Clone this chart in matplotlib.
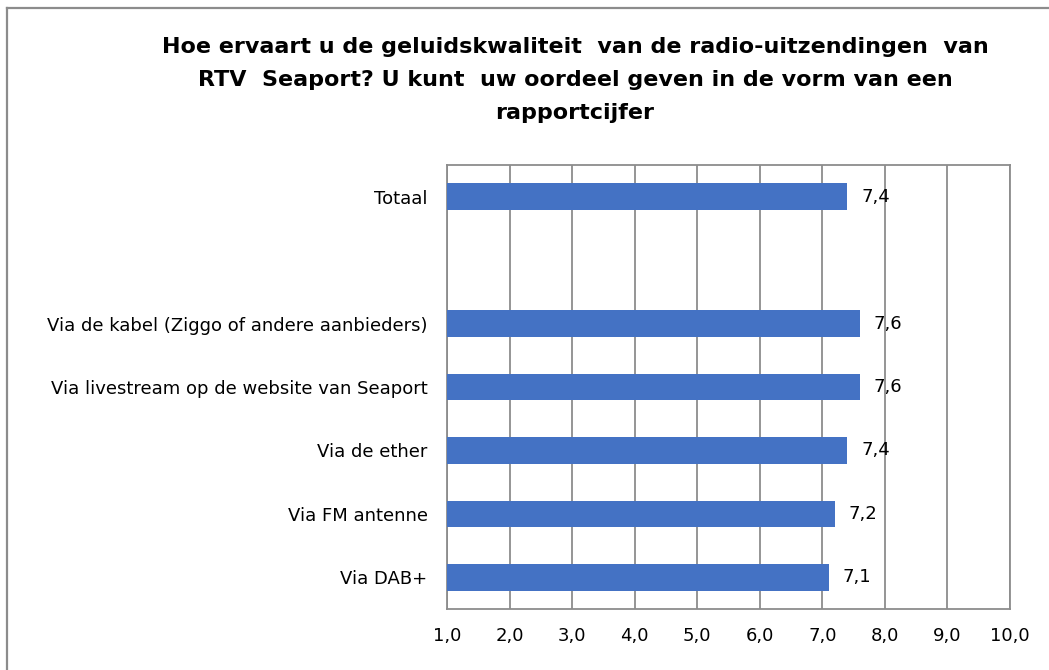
import matplotlib
matplotlib.use("Agg")
import matplotlib.pyplot as plt
from matplotlib.lines import Line2D
import numpy as np

categories = ["Totaal", "", "Via de kabel (Ziggo of andere aanbieders)",
              "Via livestream op de website van Seaport", "Via de ether",
              "Via FM antenne", "Via DAB+"]
values = [7.4, None, 7.6, 7.6, 7.4, 7.2, 7.1]
value_labels = ["7,4", "", "7,6", "7,6", "7,4", "7,2", "7,1"]
xticks = [1, 2, 3, 4, 5, 6, 7, 8, 9, 10]
xtick_labels = ["1,0", "2,0", "3,0", "4,0", "5,0", "6,0", "7,0", "8,0", "9,0", "10,0"]
title = ("Hoe ervaart u de geluidskwaliteit  van de radio-uitzendingen  van\n"
         "RTV  Seaport? U kunt  uw oordeel geven in de vorm van een\n"
         "rapportcijfer")

plt.rcParams['font.family'] = ['DejaVu Sans']

W, H = 1049, 670
fig = plt.figure(figsize=(W / 100, H / 100), dpi=100)
ax = fig.add_axes([447 / W, 1 - 609 / H, (1010 - 447) / W, (609 - 165) / H])

bar_color = "#4472C4"
grid_color = "#8C8C8C"

ypos = np.arange(len(categories))
for y, v, lab in zip(ypos, values, value_labels):
    if v is None:
        continue
    ax.barh(y, v - 1, left=1, height=0.42, color=bar_color, zorder=3)
    ax.annotate(lab, xy=(v, y), xytext=(14, 0), textcoords="offset pixels",
                ha="left", va="center", fontsize=13, color="#000000")

ax.set_xlim(1, 10)
ax.set_ylim(len(categories) - 0.5, -0.5)
ax.set_xticks(xticks)
ax.set_xticklabels(xtick_labels, fontsize=13)
ax.set_yticks(ypos)
ax.set_yticklabels(categories, fontsize=13)
ax.tick_params(axis="both", length=0)
ax.tick_params(axis="y", pad=14)
ax.tick_params(axis="x", pad=13)
ax.xaxis.grid(True, color=grid_color, linewidth=1.3, zorder=0)
ax.set_axisbelow(True)
for s in ax.spines.values():
    s.set_color(grid_color)
    s.set_linewidth(1.3)

fig.text(575 / W, 1 - 37 / H, title, ha="center", va="top", fontsize=16,
         fontweight="bold", linespacing=1.8)

# outer border (top and left edges visible)
fig.add_artist(Line2D([7 / W, 7 / W], [0, 1 - 8 / H], transform=fig.transFigure,
                      color=grid_color, linewidth=1.6))
fig.add_artist(Line2D([7 / W, 1], [1 - 8 / H, 1 - 8 / H], transform=fig.transFigure,
                      color=grid_color, linewidth=1.6))

fig.savefig("out.png", dpi=100)
